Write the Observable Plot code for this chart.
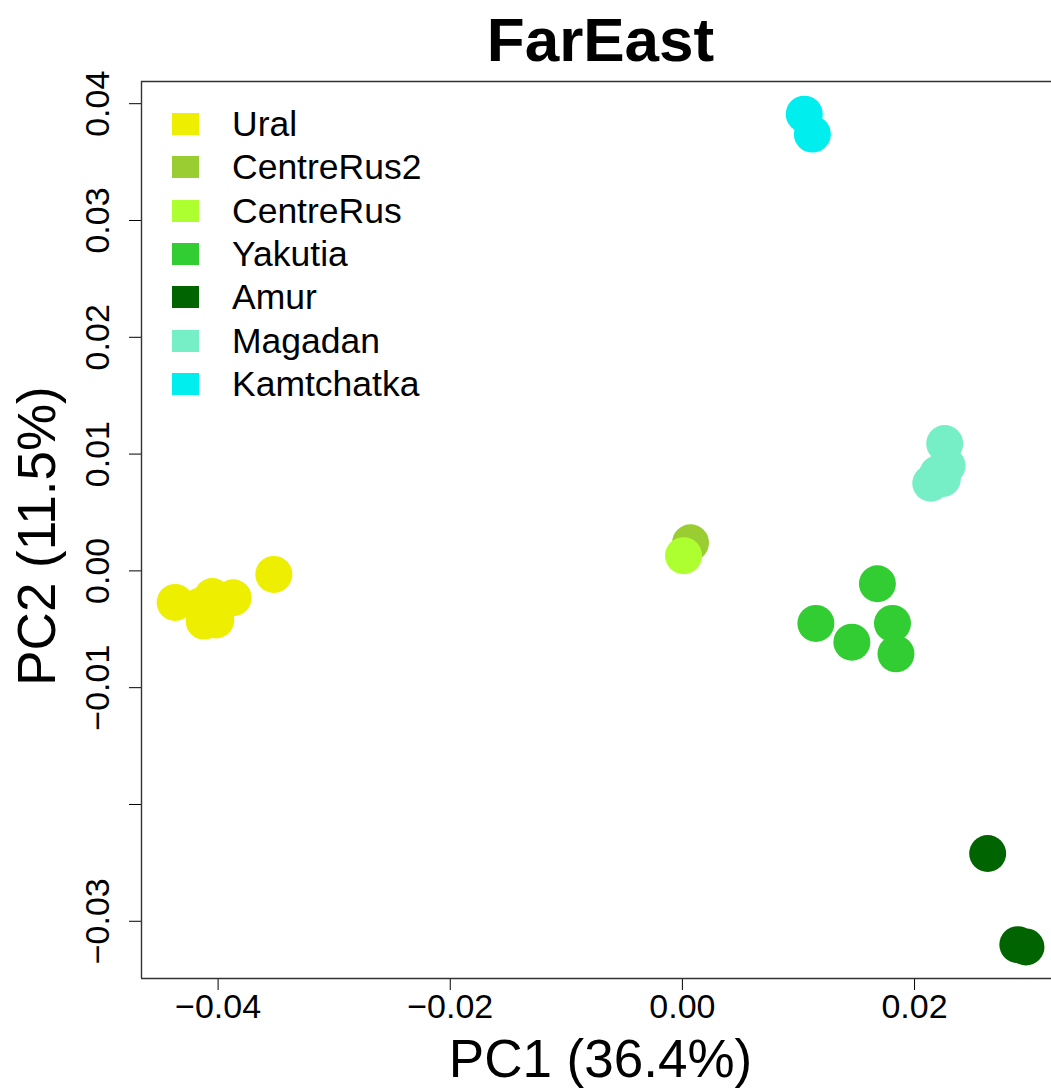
<!DOCTYPE html>
<html>
<head>
<meta charset="utf-8">
<script src="https://cdn.jsdelivr.net/npm/d3@7"></script>
<script src="https://cdn.jsdelivr.net/npm/@observablehq/plot@0.6"></script>
<style>
  html, body { margin: 0; padding: 0; background: #fff; }
  #wrap { position: relative; width: 1051px; height: 1088px; overflow: hidden; }
  #legend { position: absolute; left: 172px; top: 113px; font-family: "Liberation Sans", Arial, sans-serif; }
  .row { position: absolute; left: 0; height: 22px; display: flex; align-items: center; white-space: nowrap; }
  .sw { width: 27px; height: 22px; display: inline-block; }
  .lab { position: absolute; left: 60px; font-size: 35.5px; line-height: 22px; color: #000; }
</style>
</head>
<body>
<div id="wrap"></div>
<script>
const title = "FarEast";
const xLabel = "PC1 (36.4%)";
const yLabel = "PC2 (11.5%)";
const categories = ["Ural", "CentreRus2", "CentreRus", "Yakutia", "Amur", "Magadan", "Kamtchatka"];
const colors = ["#EEEE00", "#9ACD32", "#ADFF2F", "#32CD32", "#006400", "#76EEC6", "#00EEEE"];

// [PC1, PC2] per sample
const ural = [[-0.0437, -0.0027], [-0.0415, -0.0030], [-0.0412, -0.0043], [-0.0402, -0.0042], [-0.0405, -0.0022], [-0.0387, -0.0023], [-0.0352, -0.0003]];
const centreRus2 = [[0.0007, 0.0024]];
const centreRus = [[0.0001, 0.0013]];
const yakutia = [[0.0168, -0.0011], [0.0115, -0.0045], [0.0146, -0.0061], [0.0181, -0.0045], [0.0184, -0.0071]];
const amur = [[0.0263, -0.0242], [0.0289, -0.0320], [0.0296, -0.0322]];
const magadan = [[0.0226, 0.0109], [0.0228, 0.0090], [0.0214, 0.0075], [0.0224, 0.0079], [0.0220, 0.0083]];
const kamtchatka = [[0.0105, 0.0391], [0.0112, 0.0374]];

const xTicks = [-0.04, -0.02, 0.00, 0.02];
const yTicks = [-0.03, -0.02, -0.01, 0.00, 0.01, 0.02, 0.03, 0.04];
const yTickLabels = [-0.03, -0.01, 0.00, 0.01, 0.02, 0.03, 0.04];
const xDomain = [-0.0466, 0.0318];
const yDomain = [-0.0349, 0.0419];

const groups = [ural, centreRus2, centreRus, yakutia, amur, magadan, kamtchatka];
const data = [];
groups.forEach((g, i) => g.forEach(([pc1, pc2]) => data.push({group: categories[i], pc1, pc2})));

const fmt = d => d.toFixed(2).replace("-", "\u2212");

const chart = Plot.plot({
  width: 1051,
  height: 1088,
  marginLeft: 141,
  marginRight: 0,
  marginTop: 81,
  marginBottom: 110,
  style: {fontFamily: "'Liberation Sans', Arial, sans-serif", fontSize: "34px", background: "#fff", color: "#000"},
  x: {domain: xDomain, ticks: xTicks, tickFormat: fmt, tickSize: 12, tickPadding: 3, label: null},
  y: {domain: yDomain, ticks: yTicks, tickFormat: () => "", tickSize: 12, tickPadding: 0, label: null},
  color: {domain: categories, range: colors},
  marks: [
    Plot.ruleX([xDomain[0]], {stroke: "#333", strokeWidth: 1.4}),
    Plot.ruleY([yDomain[0], yDomain[1]], {stroke: "#333", strokeWidth: 1.4}),
    Plot.dot(data, {x: "pc1", y: "pc2", r: 18.5, fill: d => d.group, stroke: "none"}),
    Plot.text(yTickLabels, {y: d => d, frameAnchor: "left", text: fmt, rotate: -90, textAnchor: "middle", lineAnchor: "middle", dx: -43, fontSize: 34}),
    Plot.text([title], {frameAnchor: "top", text: d => d, lineAnchor: "middle", dx: 4, dy: -40, fontSize: 62, fontWeight: "bold"}),
    Plot.text([xLabel], {frameAnchor: "bottom", text: d => d, lineAnchor: "middle", dx: 4, dy: 82, fontSize: 53}),
    Plot.text([yLabel], {frameAnchor: "left", text: d => d, rotate: -90, textAnchor: "middle", lineAnchor: "middle", dx: -103, dy: 6, fontSize: 53})
  ]
});

const wrap = document.getElementById("wrap");
wrap.appendChild(chart);

const legend = document.createElement("div");
legend.id = "legend";
categories.forEach((c, i) => {
  const row = document.createElement("div");
  row.className = "row";
  row.style.top = (i * 43.3) + "px";
  const sw = document.createElement("span");
  sw.className = "sw";
  sw.style.background = colors[i];
  const lab = document.createElement("span");
  lab.className = "lab";
  lab.textContent = c;
  row.appendChild(sw);
  row.appendChild(lab);
  legend.appendChild(row);
});
wrap.appendChild(legend);
</script>
</body>
</html>
